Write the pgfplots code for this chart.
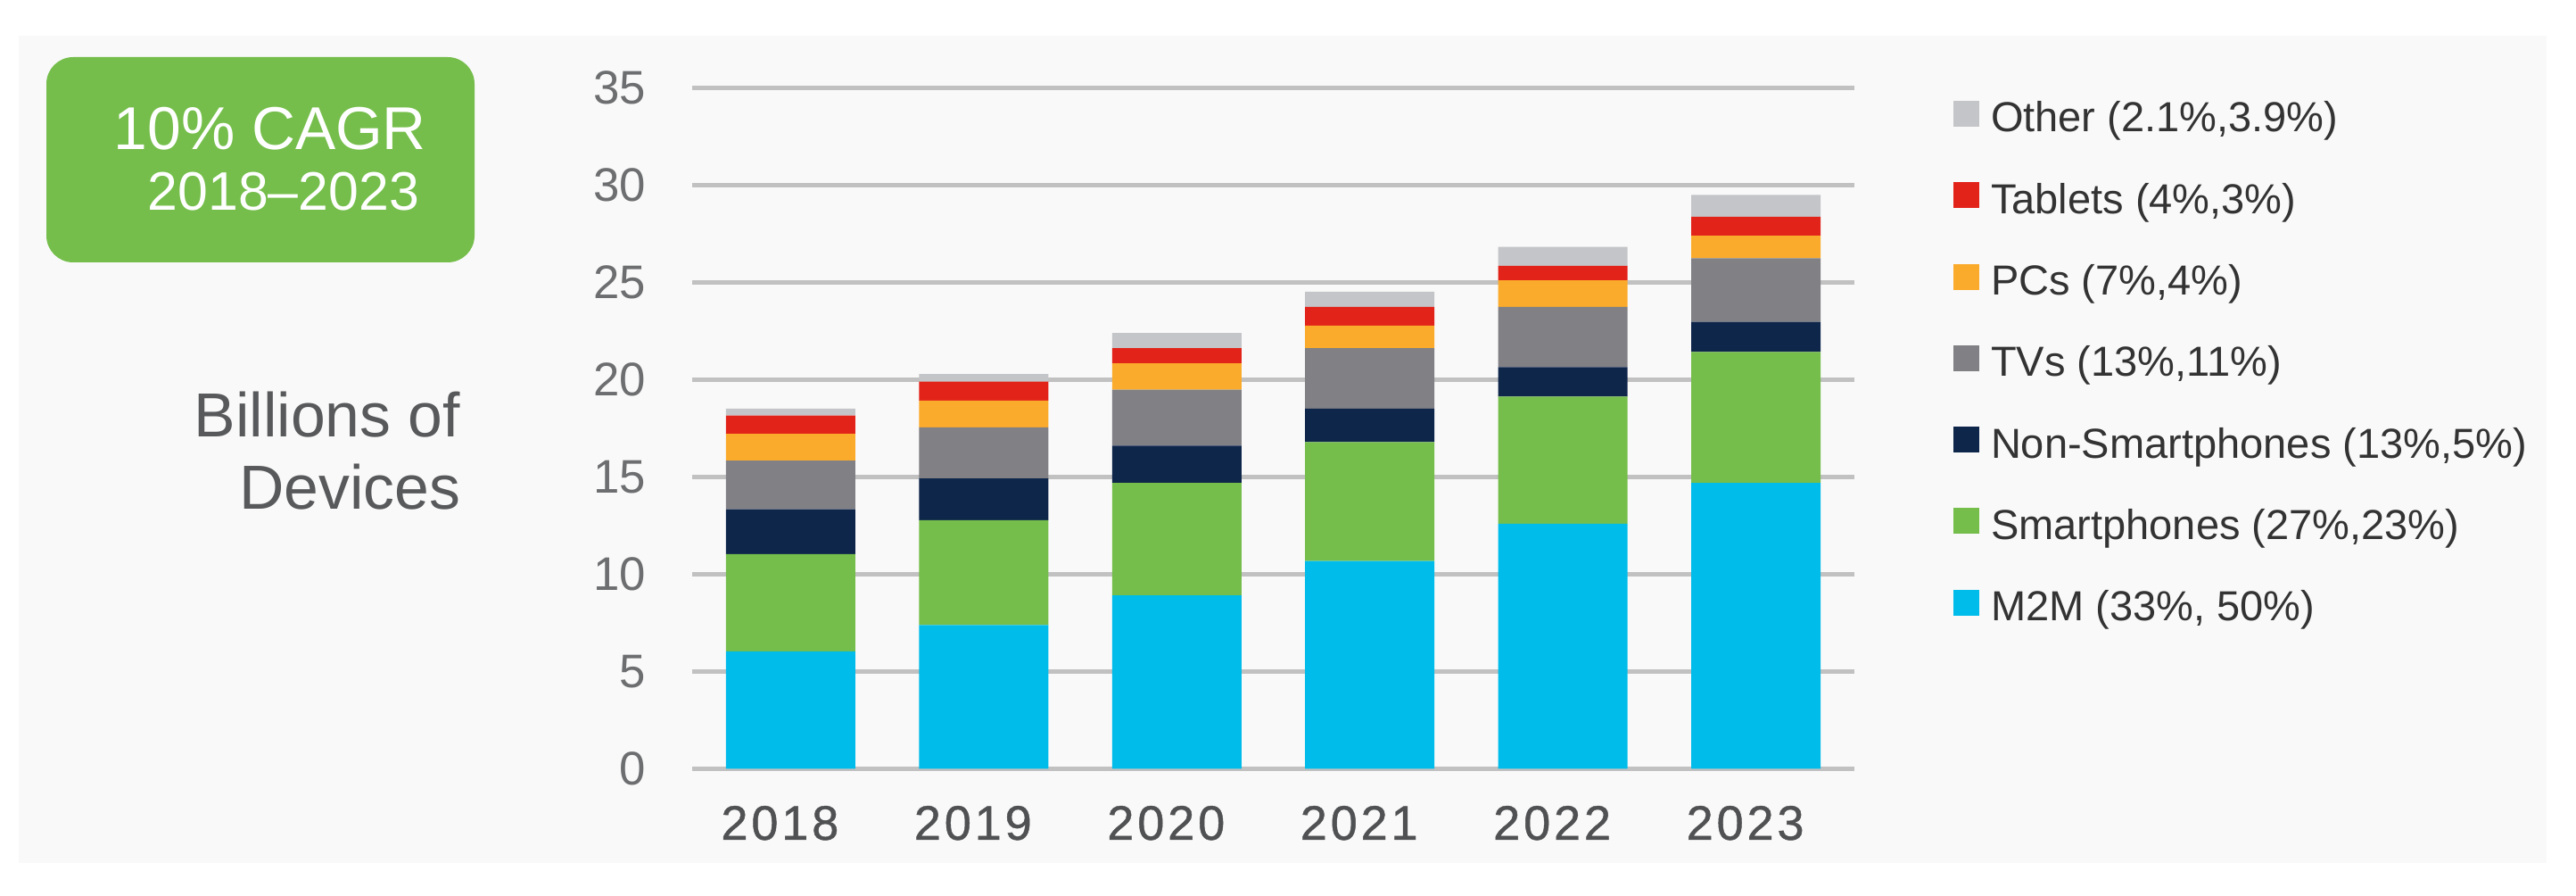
\documentclass[border=0pt]{standalone}
\usepackage{fontspec}
\setmainfont{Liberation Sans}
\newfontfamily\yearfont[LetterSpace=7,FakeBold=0.8]{Liberation Sans}
\usepackage{pgfplots}
\usepackage{pgfplotstable}
\pgfplotsset{compat=1.18}
\definecolor{m2m}{HTML}{00BCEB}
\definecolor{smart}{HTML}{75BE4B}
\definecolor{nonsmart}{HTML}{0F264B}
\definecolor{tvs}{HTML}{808085}
\definecolor{pcs}{HTML}{FBAB2C}
\definecolor{tablets}{HTML}{E2231A}
\definecolor{other}{HTML}{C4C5C8}
\definecolor{panel}{HTML}{F9F9F9}
\definecolor{gridc}{HTML}{C1C1C1}
\definecolor{ytickc}{HTML}{6D6E70}
\definecolor{xtickc}{HTML}{505153}
\definecolor{labc}{HTML}{58595B}
\definecolor{legc}{HTML}{333333}
\definecolor{cagr}{HTML}{75BE4B}

\pgfplotstableread{
x M2M Smart NonSmart TVs PCs Tablets Other
0 6.03 5.01 2.30 2.50 1.38 0.94 0.36
1 7.38 5.40 2.14 2.63 1.38 0.97 0.39
2 8.91 5.79 1.91 2.88 1.36 0.77 0.78
3 10.68 6.12 1.72 3.10 1.16 0.97 0.78
4 12.59 6.54 1.52 3.10 1.36 0.75 0.97
5 14.70 6.73 1.55 3.27 1.16 0.97 1.13
}\devices

\begin{document}
\begin{tikzpicture}
\path[use as bounding box, fill=white] (0,0) rectangle (722bp,251bp);
\fill[panel] (5.25bp,9.25bp) rectangle (713.75bp,241bp);
\fill[cagr, rounded corners=7.5bp] (13bp,177.5bp) rectangle (133bp,235bp);
\node[anchor=base west, inner sep=0pt, text=white, font=\fontsize{17}{20}\selectfont] at (31.75bp,209bp) {10\% CAGR};
\node[anchor=base west, inner sep=0pt, text=white, font=\fontsize{15.25}{18}\selectfont] at (41.25bp,192bp) {2018–2023};
\node[anchor=base east, inner sep=0pt, text=labc, font=\fontsize{17.5}{20}\selectfont] at (129.25bp,128.5bp) {Billions of};
\node[anchor=base east, inner sep=0pt, text=labc, font=\fontsize{17.5}{20}\selectfont] at (129.25bp,108.25bp) {Devices};

\begin{axis}[
  at={(194bp,35.675bp)}, anchor=south west,
  scale only axis, width=325.75bp, height=190.65bp,
  xmin=-0.51, xmax=5.51, ymin=0, ymax=35,
  ybar stacked, bar width=36.25bp,
  axis line style={draw=none},
  major tick length=0pt, tick style={draw=none},
  ytick={0,5,...,35},
  ymajorgrids, grid style={gridc, line width=1.17bp},
  xtick={0,1,2,3,4,5},
  xticklabels={2018,2019,2020,2021,2022,2023},
  /pgf/number format/assume math mode=true,
  every tick label/.append style={inner sep=0pt},
  yticklabel style={font=\fontsize{13.25}{15}\selectfont, text=ytickc, anchor=east, xshift=-12.75bp},
  xticklabel style={font=\yearfont\fontsize{13.6}{15}\selectfont, text=xtickc, anchor=base, yshift=-19.9bp, xshift=-3bp},
  clip=false,
  reverse legend,
  legend image code/.code={\fill[#1] (0bp,-1.5bp) rectangle (7.25bp,5.75bp);},
  legend style={at={(1.0852,0.9813)}, anchor=north west, draw=none, fill=none,
    inner sep=0pt, outer sep=0pt, font=\fontsize{11.8}{13}\selectfont, text=legc,
    row sep=11.575bp, nodes={inner sep=0pt, text height=8.5bp, text depth=2.5bp},
    /tikz/every odd column/.append style={column sep=3.25bp}},
  legend cell align=left,
]
\addplot[fill=m2m, draw=none] table[x=x, y=M2M] {\devices};
\addplot[fill=smart, draw=none] table[x=x, y=Smart] {\devices};
\addplot[fill=nonsmart, draw=none] table[x=x, y=NonSmart] {\devices};
\addplot[fill=tvs, draw=none] table[x=x, y=TVs] {\devices};
\addplot[fill=pcs, draw=none] table[x=x, y=PCs] {\devices};
\addplot[fill=tablets, draw=none] table[x=x, y=Tablets] {\devices};
\addplot[fill=other, draw=none] table[x=x, y=Other] {\devices};
\legend{M2M (33\%{,} 50\%),Smartphones (27\%{,}23\%),Non-Smartphones (13\%{,}5\%),TVs (13\%{,}11\%),PCs (7\%{,}4\%),Tablets (4\%{,}3\%),Other (2.1\%{,}3.9\%)}
\end{axis}
\end{tikzpicture}
\end{document}
